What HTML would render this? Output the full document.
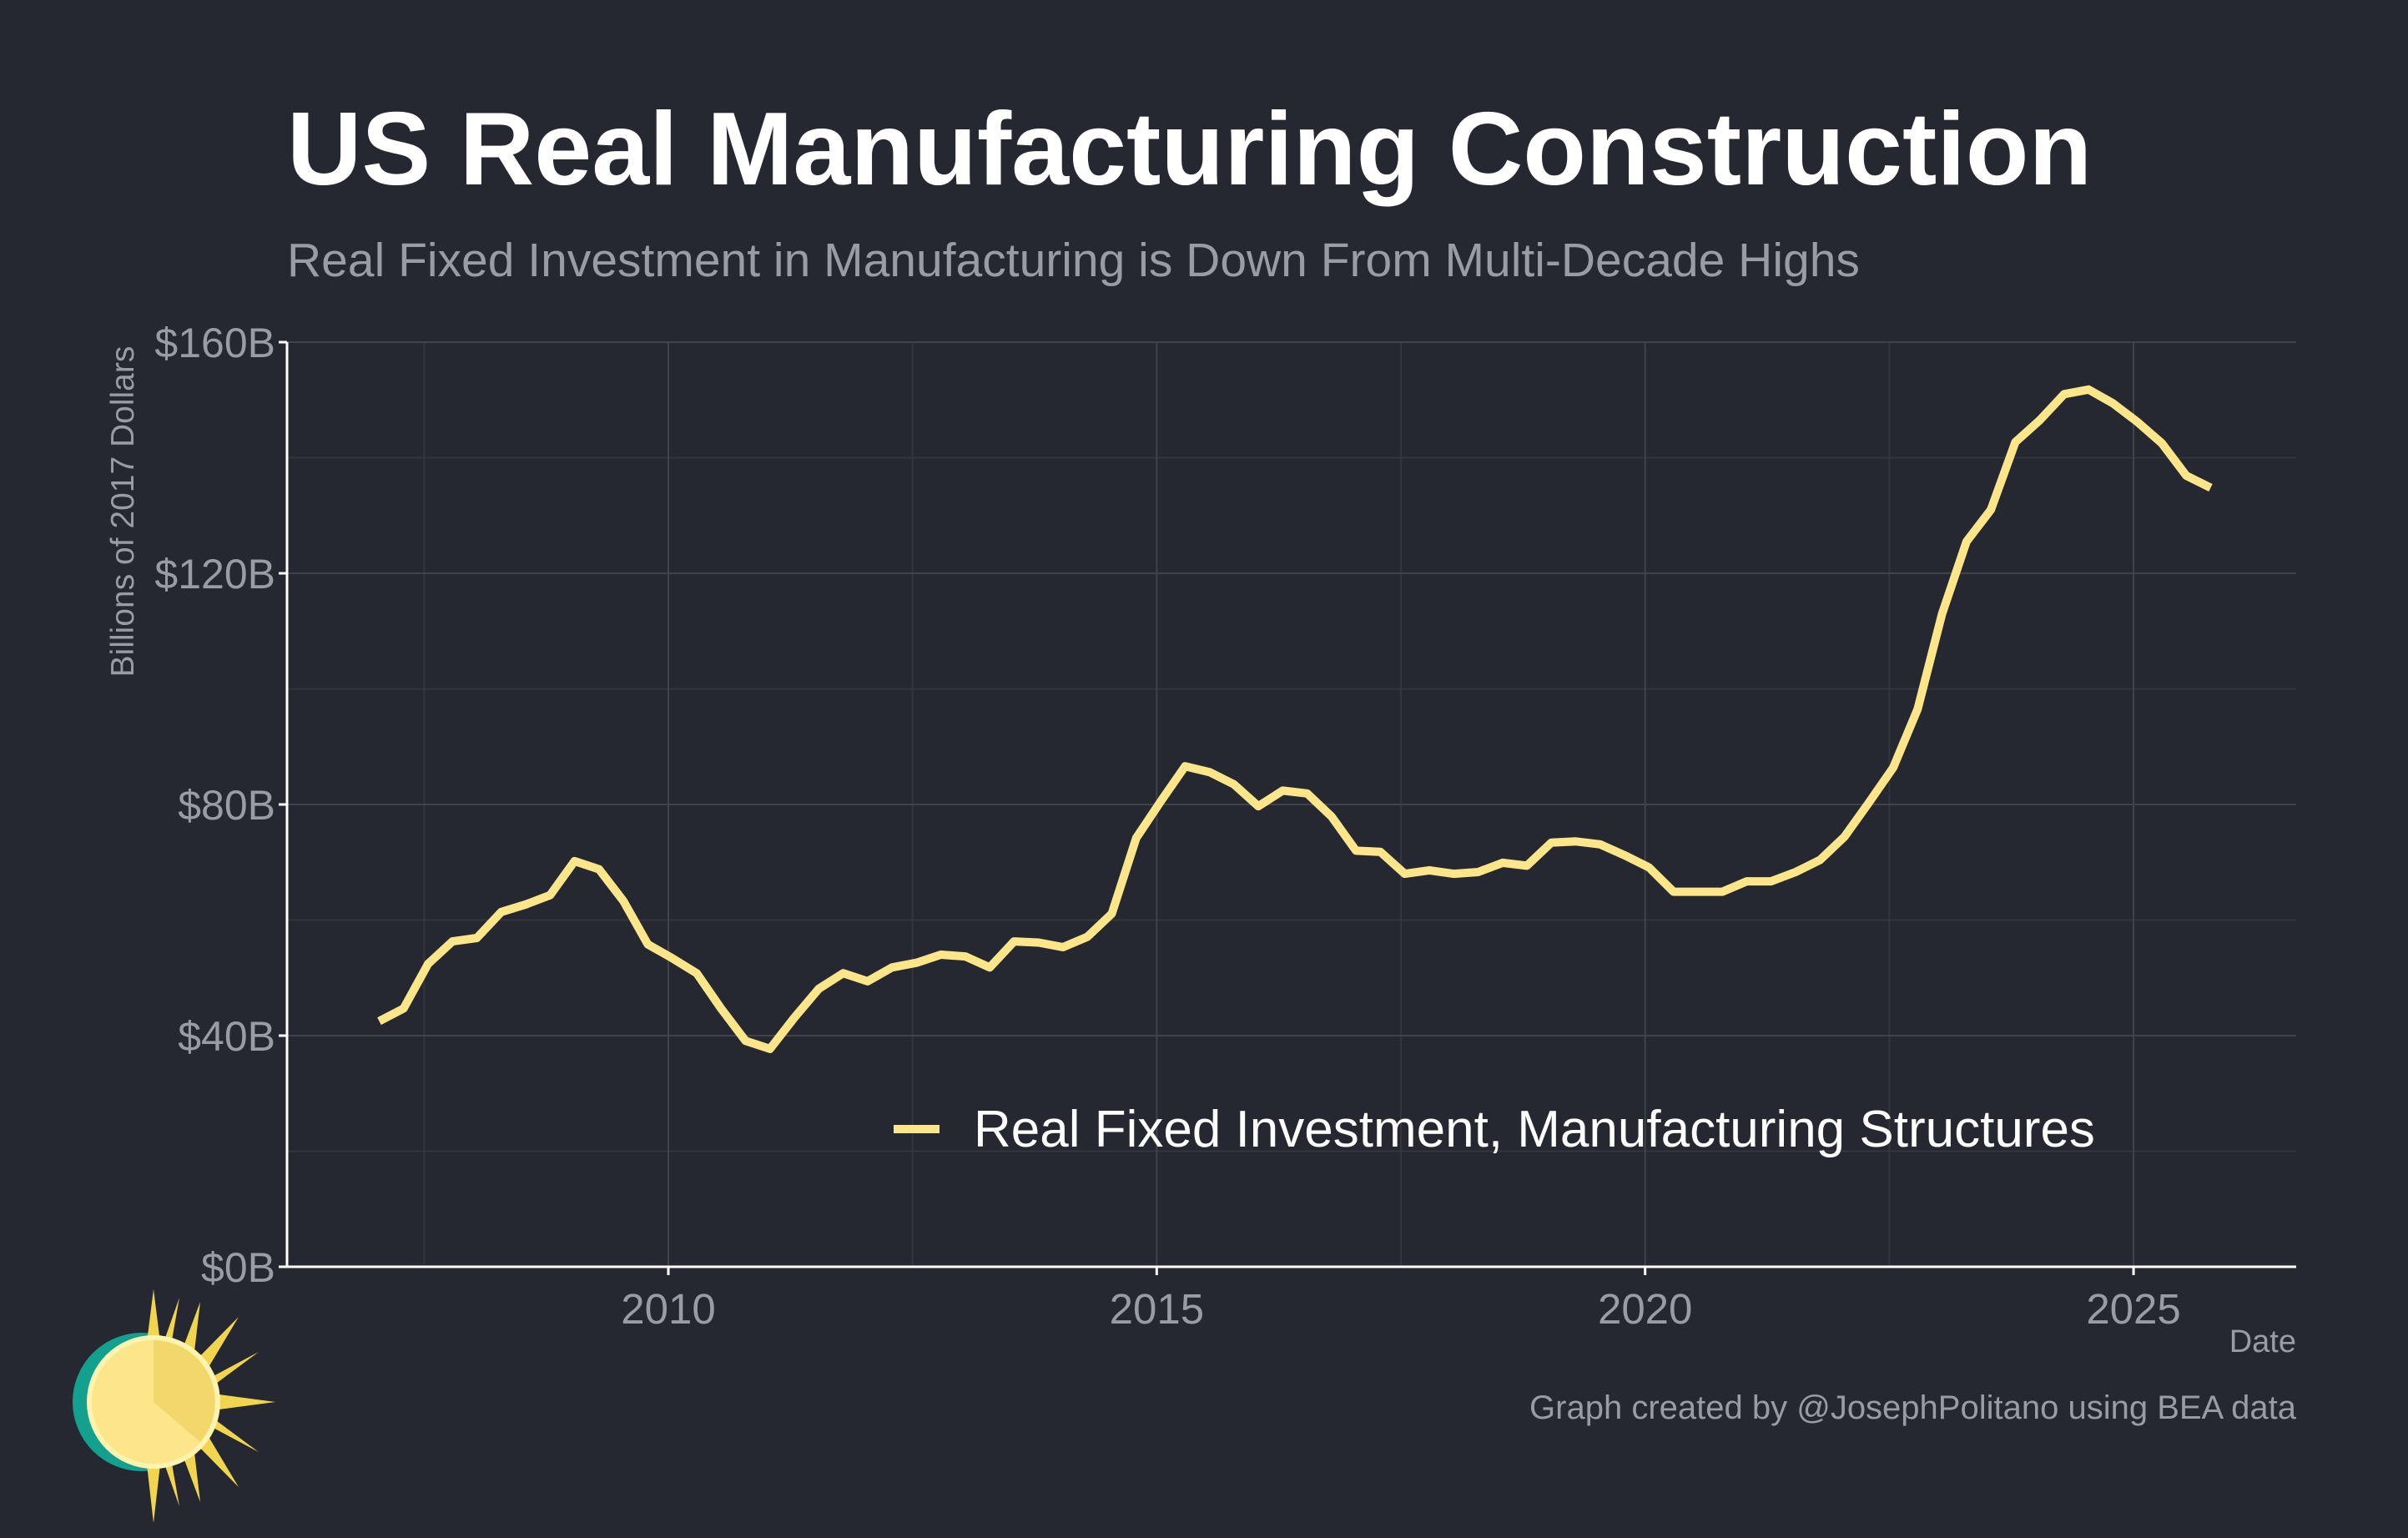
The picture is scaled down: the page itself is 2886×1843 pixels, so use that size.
<!DOCTYPE html>
<html><head><meta charset="utf-8"><style>
html,body{margin:0;padding:0;background:#252830;}
svg{display:block;font-family:"Liberation Sans",Arial,sans-serif;}
</style></head><body>
<svg id="chart" width="2886" height="1843" viewBox="0 0 2886 1843" xmlns="http://www.w3.org/2000/svg">
<rect width="2886" height="1843" fill="#252830"/>
<text x="344" y="221" font-size="124" font-weight="bold" fill="#ffffff">US Real Manufacturing Construction</text>
<text x="344" y="331" font-size="57" fill="#9a9ca4">Real Fixed Investment in Manufacturing is Down From Multi-Decade Highs</text>
<g id="grid"></g>
<g id="axes"></g>
<g id="series"></g>
<text transform="translate(160,613) rotate(-90)" text-anchor="middle" font-size="39" fill="#9a9ca4">Billions of 2017 Dollars</text>
<text x="2752" y="1620" text-anchor="end" font-size="38" fill="#9a9ca4">Date</text>
<g>
<line x1="1071" y1="1353" x2="1126" y2="1353" stroke="#fde68a" stroke-width="10"/>
<text x="1167" y="1374" font-size="62" fill="#ffffff">Real Fixed Investment, Manufacturing Structures</text>
</g>
<text x="2752" y="1700" text-anchor="end" font-size="40" fill="#9a9ca4">Graph created by @JosephPolitano using BEA data</text>
<g>
<circle cx="170" cy="1680" r="83" fill="#14a08f"/>
<g fill="#f2d54e">
<polygon points="184,1545 196,1640 172,1640"/>
<polygon points="184,1825 196,1720 172,1720"/>
<polygon points="330,1680 240,1668 240,1692"/>
<polygon points="286,1578 225,1640 240,1655"/>
<polygon points="286,1782 225,1720 240,1705"/>
<polygon points="240,1560 210,1640 230,1645"/>
<polygon points="240,1800 210,1720 230,1715"/>
<polygon points="310,1620 235,1660 240,1672"/>
<polygon points="310,1740 235,1700 240,1688"/>
<polygon points="215,1555 200,1640 185,1640"/>
<polygon points="215,1805 200,1720 185,1720"/>
</g>
<circle cx="184" cy="1680" r="80" fill="#fff3b0"/>
<circle cx="184" cy="1680" r="74" fill="#fde68a"/>
<path d="M184,1680 L184,1606 A74,74 0 0 1 240,1728 Z" fill="#f2d86a"/>
</g>
<script>
const years=[2007,2008,2009,2010,2011,2012,2013,2014,2015,2016,2017,2018,2019,2020,2021,2022,2023,2024,2025];
const values=[42.5,44.7,52.4,56.3, 56.9,61.4,62.7,64.3, 70.2,68.8,63.3,55.8, 53.4,50.8,44.7,39.1,
37.7,43.1,48.1,50.8, 49.4,51.8,52.6,54.0, 53.7,51.8,56.3,56.1, 55.3,57.1,61.1,74.2,
80.5,86.6,85.6,83.5, 79.7,82.4,81.9,77.9, 72.0,71.8,68.0,68.6, 68.0,68.3,69.9,69.4,
73.4,73.6,73.1,71.2, 69.1,64.9,64.9,64.9, 66.7,66.7,68.3,70.4, 74.4,80.3,86.4,96.5,
113.0,125.5,131.0,142.7, 146.5,151.0,151.8,149.4, 146.2,142.5,136.9,134.8];
const xTicks=[2010,2015,2020,2025];
const xMinor=[2007.5,2012.5,2017.5,2022.5];
const yTicks=[0,40,80,120,160];
const yMinor=[20,60,100,140];
const yLabels=["$0B","$40B","$80B","$120B","$160B"];
const L=344,R=2752,T=410,B=1518;
function xs(t){return 801+(t-2010)*117.07;}
function ys(v){return B-(v/160)*(B-T);}
const NS="http://www.w3.org/2000/svg";
function mk(tag,attrs,parent){const e=document.createElementNS(NS,tag);for(const k in attrs)e.setAttribute(k,attrs[k]);parent.appendChild(e);return e;}
const grid=document.getElementById('grid'),axes=document.getElementById('axes'),series=document.getElementById('series');
yMinor.forEach(v=>{const e=mk('line',{x1:L,x2:R,y1:ys(v),y2:ys(v),stroke:'#33363e','stroke-width':2},grid);

});
xMinor.forEach(t=>{const e=mk('line',{x1:xs(t),x2:xs(t),y1:T,y2:B,stroke:'#33363e','stroke-width':2},grid);

});
yTicks.forEach((v,i)=>{const e=mk('line',{x1:L,x2:R,y1:ys(v),y2:ys(v),stroke:'#40434b','stroke-width':2},grid);


const tk=mk('line',{x1:L-10,x2:L,y1:ys(v),y2:ys(v),stroke:'#ffffff','stroke-width':3},axes);


const tx=mk('text',{x:L-14,y:ys(v)+18,'text-anchor':'end','font-size':50,fill:'#9a9ca4'},axes);tx.textContent=yLabels[i];

});
xTicks.forEach(t=>{const e=mk('line',{x1:xs(t),x2:xs(t),y1:T,y2:B,stroke:'#40434b','stroke-width':2},grid);


const tk=mk('line',{x1:xs(t),x2:xs(t),y1:B,y2:B+10,stroke:'#ffffff','stroke-width':3},axes);


const tx=mk('text',{x:xs(t),y:B+68,'text-anchor':'middle','font-size':51,fill:'#9a9ca4'},axes);tx.textContent=t;

});
const ax1=mk('line',{x1:L,x2:L,y1:T,y2:B,stroke:'#ffffff','stroke-width':3},axes);


const ax2=mk('line',{x1:L,x2:R,y1:B,y2:B,stroke:'#ffffff','stroke-width':3},axes);


const pts=values.map((v,i)=>xs(years[0]+i*0.25+0.04).toFixed(1)+','+ys(v).toFixed(1)).join(' ');
const pl=mk('polyline',{points:pts,fill:'none',stroke:'#fde68a','stroke-width':10,'stroke-linejoin':'round'},series);


</script>
</svg>
</body></html>
